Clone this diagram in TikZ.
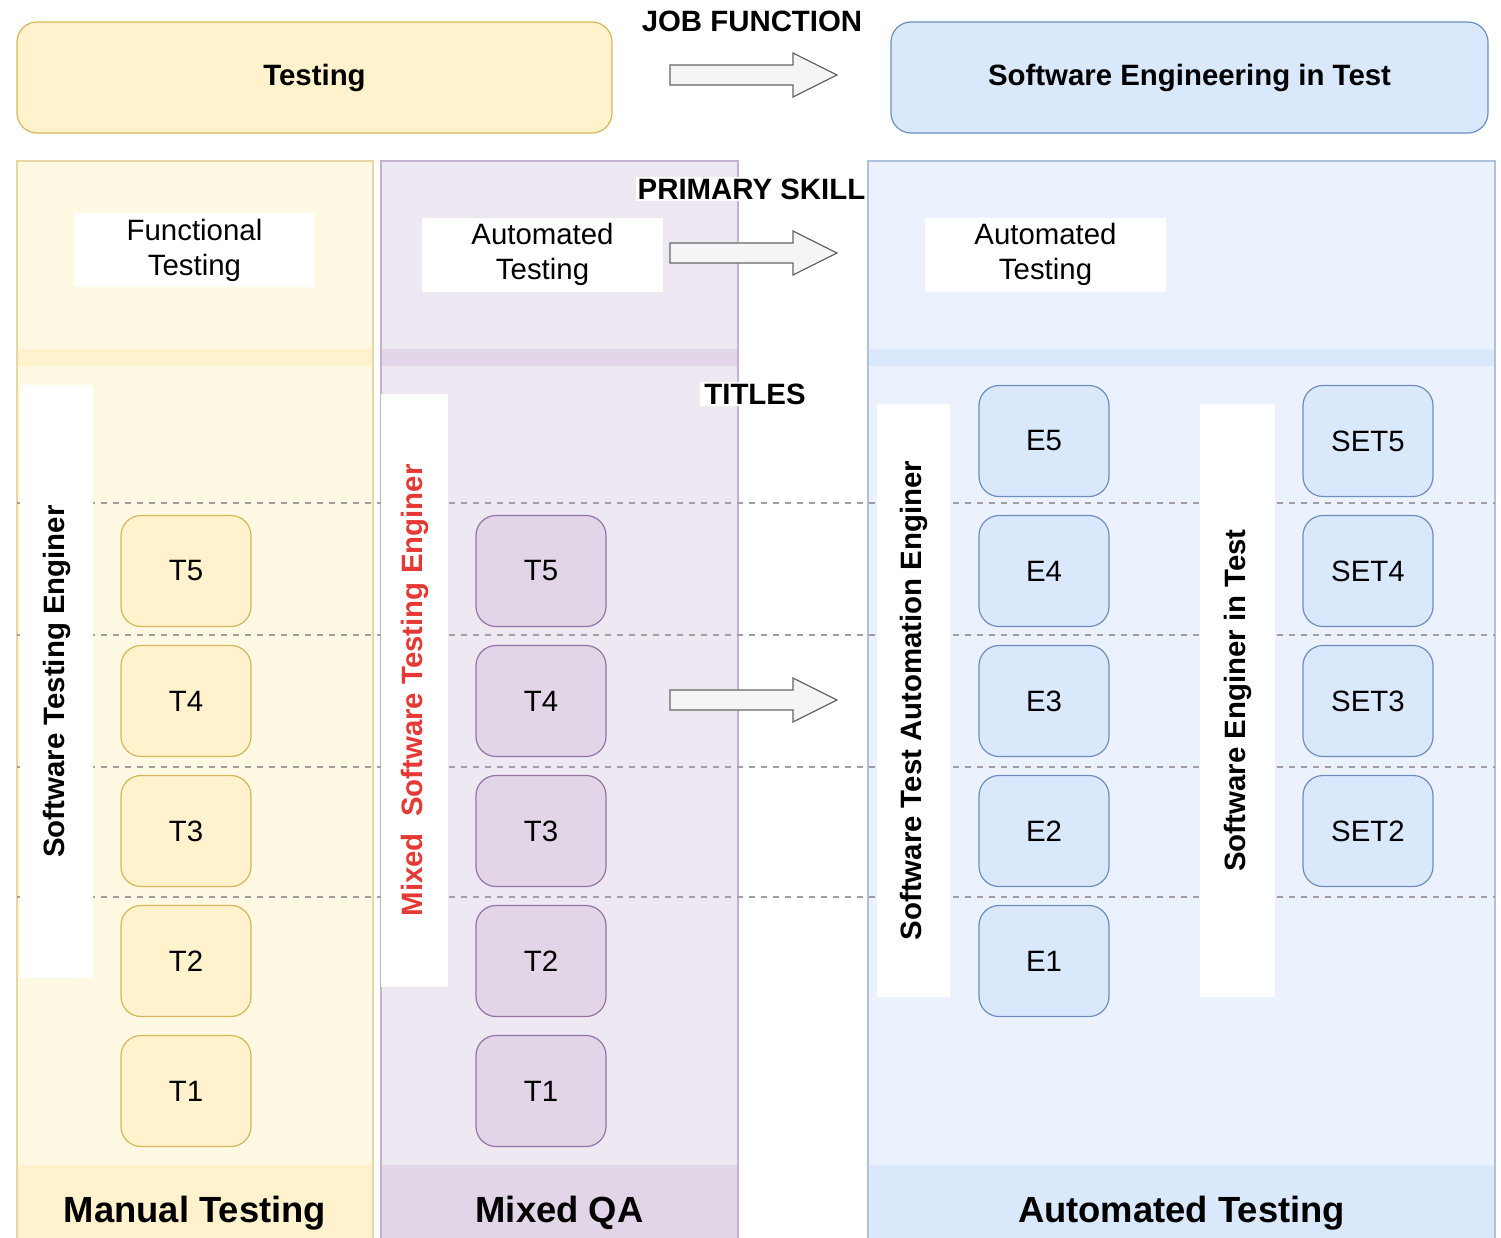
\documentclass[tikz,border=0pt]{standalone}
\usepackage{fontspec}
\setmainfont{Liberation Sans}

\definecolor{ylwFill}{HTML}{FFF2CC}
\definecolor{ylwLine}{HTML}{D6B656}
\definecolor{prpFill}{HTML}{E1D5E7}
\definecolor{prpLine}{HTML}{9673A6}
\definecolor{bluFill}{HTML}{DAE8FC}
\definecolor{bluLine}{HTML}{6C8EBF}
\definecolor{arrFill}{HTML}{F5F5F5}
\definecolor{arrLine}{HTML}{666666}
\definecolor{mixedRed}{HTML}{E53935}

\newcommand{\lblfont}{\fontsize{14.7}{17.5}\selectfont}
\newcommand{\bandfont}{\fontsize{18.2}{21}\selectfont\bfseries}

\begin{document}
\begin{tikzpicture}[x=0.5pt, y=-0.5pt,
    topbox/.style={rounded corners=10pt, line width=0.6pt, minimum height=55.5pt, font=\lblfont\bfseries},
    rolebox/.style={rounded corners=10pt, line width=0.6pt, minimum width=65pt, minimum height=55.5pt, font=\lblfont},
    whitebox/.style={fill=white, align=center, font=\lblfont, inner sep=0pt, minimum width=120.5pt, minimum height=37pt},
    sidelabel/.style={fill=white, rotate=90, font=\lblfont\bfseries, inner sep=0pt, minimum width=296.5pt, minimum height=36.5pt},
    heading/.style={font=\lblfont\bfseries, inner sep=1pt},
    bandlabel/.style={font=\bandfont},
    blockarr/.style={fill=arrFill, draw=arrLine, line width=0.6pt},
    lanesep/.style={draw=gray!75, line width=0.6pt, dash pattern=on 3pt off 3pt}]

    \useasboundingbox (0,0) rectangle (1501,1238);

    % Job function
    \node[topbox, fill=ylwFill, draw=ylwLine, minimum width=297.5pt] (jobTesting) at (314.5,77.5) {Testing};
    \node[topbox, fill=bluFill, draw=bluLine, minimum width=298.5pt] (jobSET) at (1189.5,77.5) {Software Engineering in Test};
    \node[heading] (jobHead) at (752,21) {JOB FUNCTION};

    % Pools: body, header stripe, bottom band, border
    \foreach \xa/\xb/\c in {17/373/ylw, 381/738/prp, 868/1495/blu} {
        \fill[\c Fill!55] (\xa,161) rectangle (\xb,1238);
        \fill[\c Fill] (\xa,349) rectangle (\xb,366);
        \fill[\c Fill] (\xa,1165) rectangle (\xb,1238);
        \draw[\c Line!55, line width=0.6pt] (\xa,1238) -- (\xa,161) -- (\xb,161) -- (\xb,1238);
    }

    % Lane separators
    \foreach \y in {503,635,767,897}
        \draw[lanesep] (17,\y) -- (1495,\y);

    % Primary skill
    \node[whitebox] (skillManual) at (194.5,250) {Functional\\Testing};
    \node[whitebox] (skillMixed) at (542.5,254.5) {Automated\\Testing};
    \node[whitebox] (skillAuto) at (1045.5,254.5) {Automated\\Testing};

    % Side titles
    \node[sidelabel] (titleManual) at (56.5,681.5) {Software Testing Enginer};
    \node[sidelabel, minimum height=33.5pt, text=mixedRed] (titleMixed) at (414.5,690.5) {Mixed\ \ Software Testing Enginer};
    \node[sidelabel] (titleSTAE) at (913.5,700.5) {Software Test Automation Enginer};
    \node[sidelabel, minimum height=37.5pt] (titleSET) at (1237.5,700.5) {Software Enginer in Test};

    % Title boxes
    \foreach \i in {1,...,5} {
        \node[rolebox, fill=ylwFill, draw=ylwLine] (mT\i) at (186,1221-130*\i) {T\i};
        \node[rolebox, fill=prpFill, draw=prpLine] (xT\i) at (541,1221-130*\i) {T\i};
        \node[rolebox, fill=bluFill, draw=bluLine] (E\i) at (1044,1091-130*\i) {E\i};
    }
    \foreach \i in {2,...,5}
        \node[rolebox, fill=bluFill, draw=bluLine] (SET\i) at (1368,1091-130*\i) {SET\i};

    % Block arrows
    \foreach \y in {75,253,700}
        \draw[blockarr, shift={(670,\y)}] (0,-10) -- (123,-10) -- (123,-22) -- (167,0)
            -- (123,22) -- (123,10) -- (0,10) -- cycle;

    % Row headings
    \node[heading, fill=white] (skillHead) at (751.5,189) {PRIMARY SKILL};
    \node[heading, fill=white, inner xsep=2pt] (titleHead) at (755,394) {TITLES};

    % Bottom bands
    \node[bandlabel] (bandManual) at (195,1213) {Manual Testing};
    \node[bandlabel] (bandMixed) at (559.5,1213) {Mixed QA};
    \node[bandlabel] (bandAuto) at (1181.5,1213) {Automated Testing};

\end{tikzpicture}
\end{document}
